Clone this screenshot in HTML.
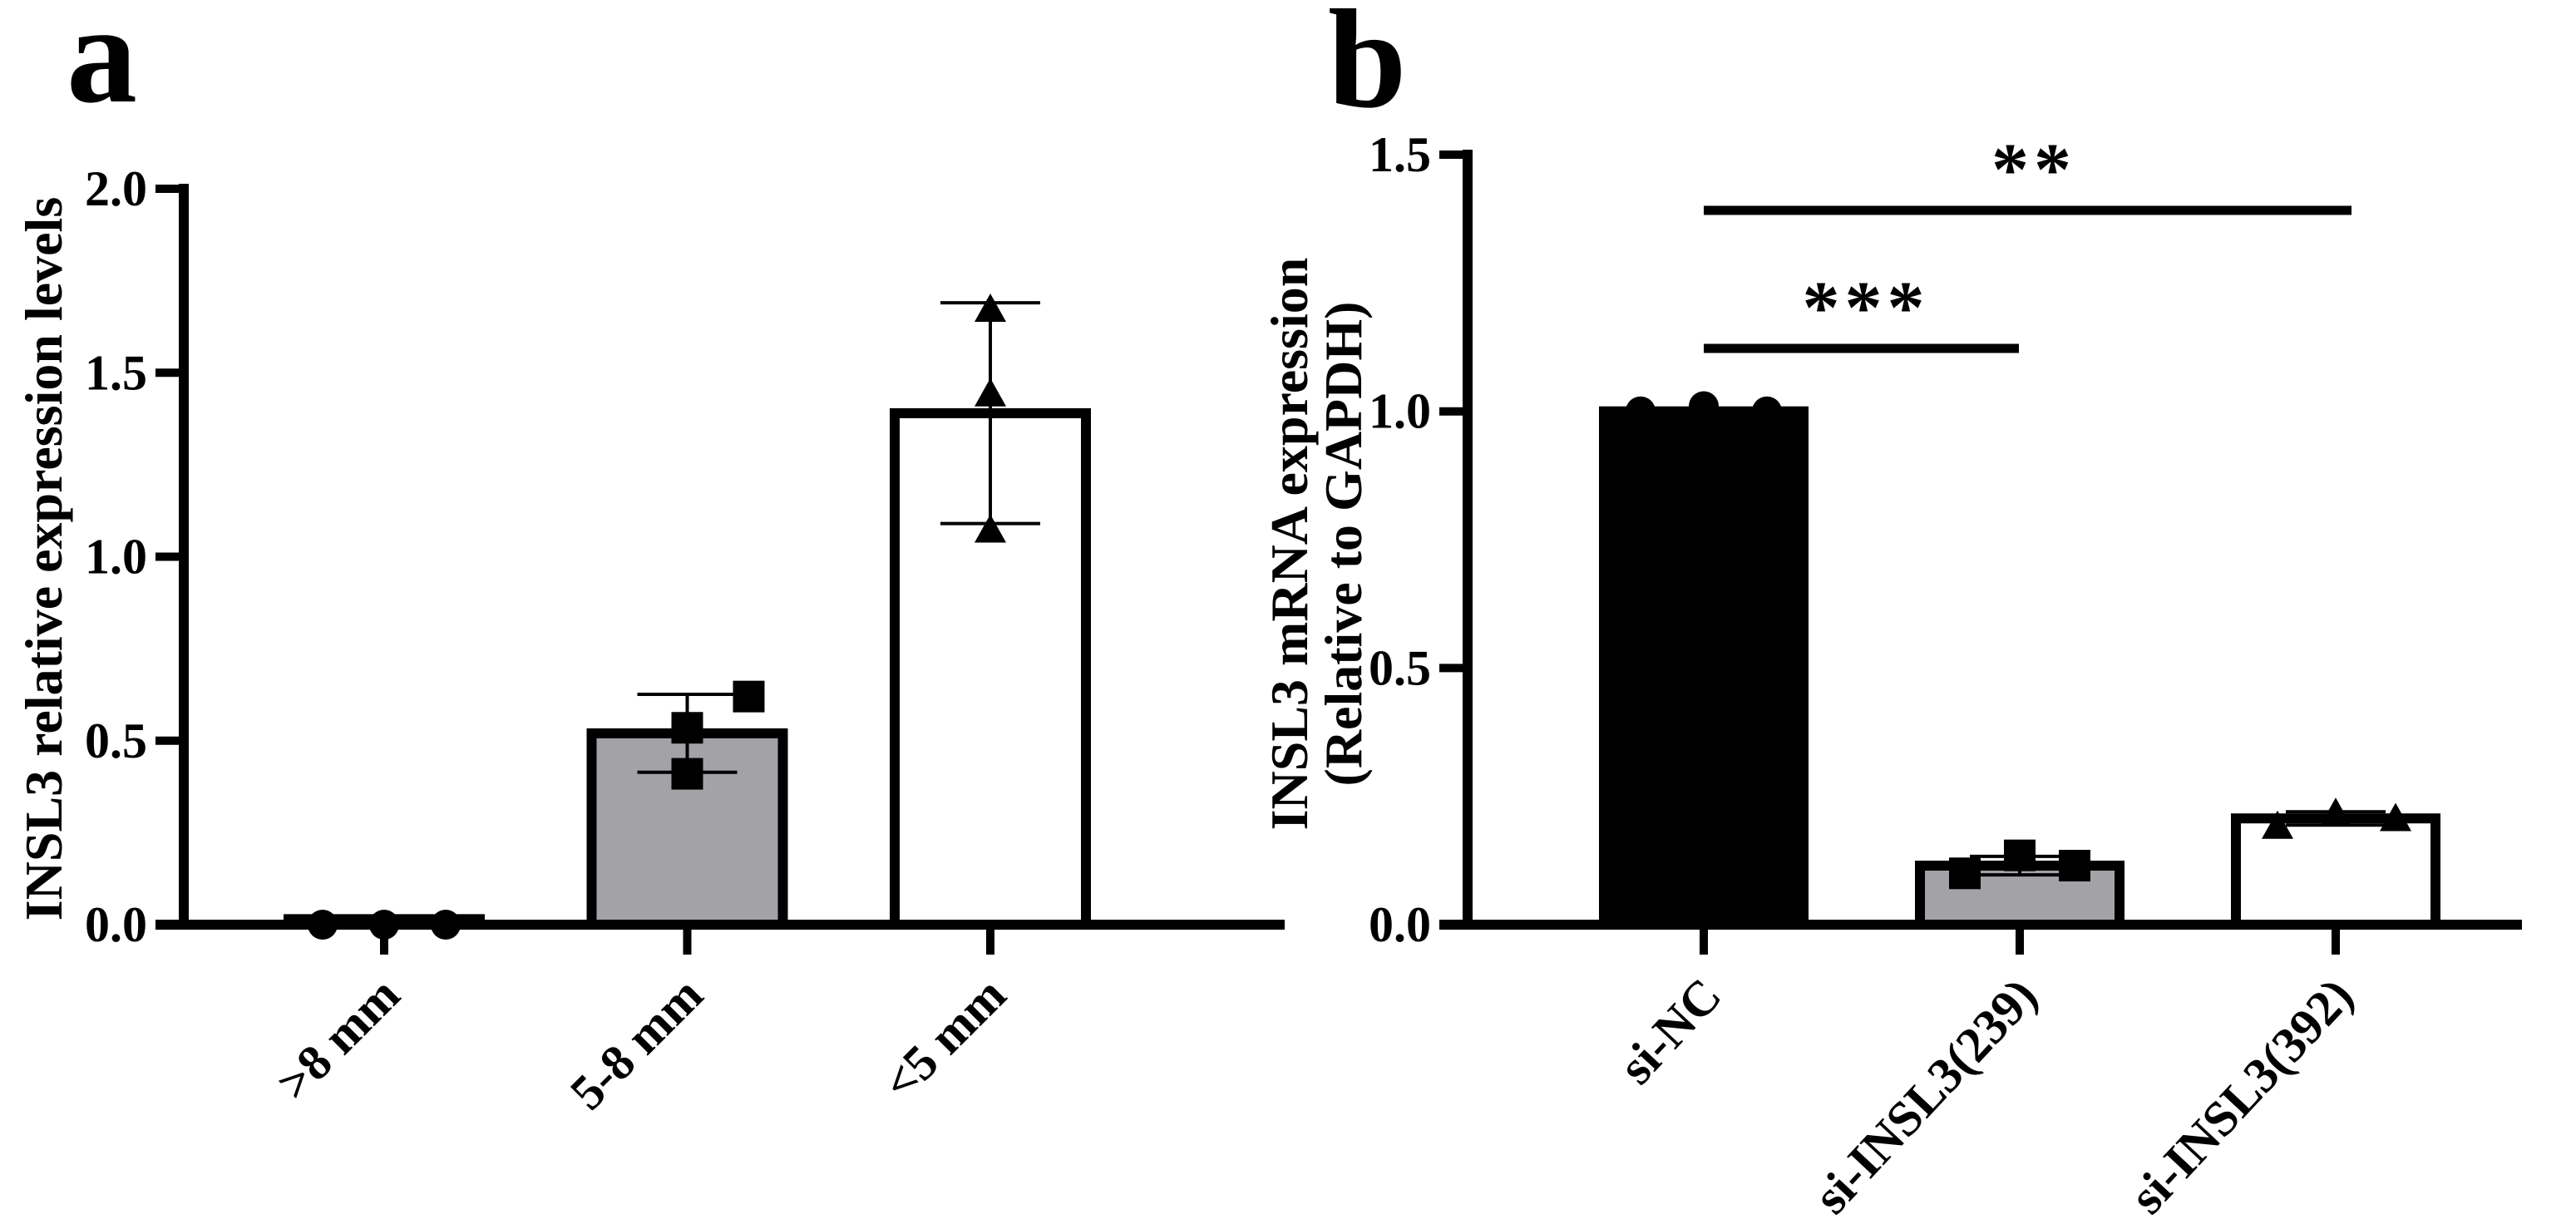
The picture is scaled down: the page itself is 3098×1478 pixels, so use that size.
<!DOCTYPE html>
<html><head><meta charset="utf-8">
<style>
html,body{margin:0;padding:0;background:#fff;}
svg{display:block;}
text{font-family:"Liberation Serif",serif;font-weight:bold;fill:#000;}
</style></head>
<body>
<svg id="fig" width="3098" height="1478" viewBox="0 0 3098 1478" xmlns="http://www.w3.org/2000/svg">
<text x="80" y="122" font-size="170">a</text>
<text x="1597" y="128" font-size="170">b</text>
<g id="pa"></g>
<g id="pb"></g>
</svg>
<script>
// ---- Panel A data ----
const catsA = [">8 mm", "5-8 mm", "<5 mm"];
const meansA = [0.015, 0.52, 1.39];
const sdA = [0.005, 0.106, 0.30];
const ptsA1 = [0.0, 0.0, 0.0];
const ptsA2 = [0.535, 0.62, 0.41];
const ptsA3 = [1.67, 1.44, 1.07];
const ticksA = [0, 0.5, 1.0, 1.5, 2.0];
const tickLabelsA = ["0.0", "0.5", "1.0", "1.5", "2.0"];
// ---- Panel B data ----
const catsB = ["si-NC", "si-INSL3(239)", "si-INSL3(392)"];
const meansB = [1.0, 0.115, 0.207];
const sdB = [0.005, 0.018, 0.013];
const ptsB1 = [1.0, 1.01, 1.0];
const ptsB2 = [0.10, 0.135, 0.115];
const ptsB3 = [0.19, 0.215, 0.205];
const ticksB = [0, 0.5, 1.0, 1.5];
const tickLabelsB = ["0.0", "0.5", "1.0", "1.5"];

const NS = "http://www.w3.org/2000/svg";
function mk(parent, tag, attrs){
  const e = document.createElementNS(NS, tag);
  for (const k in attrs) e.setAttribute(k, attrs[k]);
  parent.appendChild(e);
  return e;
}

function drawPanel(g, cfg){
  const y = v => cfg.y0 - (v - 0) * cfg.ppu;
  const x = i => cfg.xc[0] + i * cfg.step;
  cfg.means.forEach((m, i) => {
    const top = y(m), bot = y(0);
    const r = mk(g, "rect", {x: x(i) - cfg.bw/2, y: top, width: cfg.bw, height: Math.max(bot - top, 0.5),
      fill: cfg.fills[i], stroke: "#000", "stroke-width": 12});
    
    
  });
  cfg.pts.forEach((arr, i) => {
    arr.forEach((v, j) => {
      const px = x(i) + cfg.jit[i][j], py = y(v);
      let p;
      if (cfg.shapes[i] === "circle") {
        p = mk(g, "circle", {cx: px, cy: py, r: 18, fill: "#000"});
      } else if (cfg.shapes[i] === "square") {
        p = mk(g, "rect", {x: px - 19, y: py - 19, width: 38, height: 38, fill: "#000"});
      } else {
        p = mk(g, "polygon", {points: `${px},${py-20} ${px+19},${py+14} ${px-19},${py+14}`, fill: "#000"});
      }
      
      
    });
  });
  cfg.means.forEach((m, i) => {
    const eg = mk(g, "g", {stroke: "#000", "stroke-width": 4});
    
    
    const hi = y(m + cfg.sd[i]), lo = y(Math.max(m - cfg.sd[i], 0));
    mk(eg, "line", {x1: x(i), x2: x(i), y1: hi, y2: lo});
    mk(eg, "line", {x1: x(i) - 60, x2: x(i) + 60, y1: hi, y2: hi});
    mk(eg, "line", {x1: x(i) - 60, x2: x(i) + 60, y1: lo, y2: lo});
  });
  const ya = mk(g, "line", {x1: cfg.ax, x2: cfg.ax, y1: y(cfg.ticks[cfg.ticks.length-1]) - 6, y2: cfg.y0 + 6, stroke: "#000", "stroke-width": 12});
  
  
  const xa = mk(g, "line", {x1: cfg.ax - 34, x2: cfg.xEnd, y1: cfg.y0, y2: cfg.y0, stroke: "#000", "stroke-width": 12});
  
  
  cfg.ticks.forEach((t, k) => {
    const tl = mk(g, "line", {x1: cfg.ax - 34, x2: cfg.ax, y1: y(t), y2: y(t), stroke: "#000", "stroke-width": 10});
    
    
    const tx = mk(g, "text", {x: cfg.ax - 44, y: y(t) + 20, "font-size": 60, "text-anchor": "end"});
    tx.textContent = cfg.tickLabels[k];
    
    
  });
  cfg.cats.forEach((c, i) => {
    const tl = mk(g, "line", {x1: x(i), x2: x(i), y1: cfg.y0, y2: cfg.y0 + 36, stroke: "#000", "stroke-width": 10});
    
    
    const lx = x(i) + cfg.lblDx, ly = cfg.y0 + cfg.lblDy;
    const tx = mk(g, "text", {x: lx, y: ly, "font-size": 60, "text-anchor": "end", transform: `rotate(${cfg.rot} ${lx} ${ly})`});
    tx.textContent = c;
    
    
  });
  return y;
}

const pa = document.getElementById("pa");
drawPanel(pa, {y0: 1112, ppu: 442.5, ax: 221, xEnd: 1545, xc: [462], step: 364.5, bw: 230,
  means: meansA, sd: sdA, pts: [ptsA1, ptsA2, ptsA3], cats: catsA, ticks: ticksA, tickLabels: tickLabelsA,
  fills: ["#fff", "#a3a2a6", "#fff"], shapes: ["circle", "square", "triangle"], rot: -45, lblDx: 22, lblDy: 88,
  jit: [[-74, 0, 74], [0, 74, 0], [0, 0, 0]]});
const ta = mk(pa, "text", {x: 0, y: 0, "font-size": 64, "text-anchor": "middle", transform: "translate(74 672) rotate(-90)"});
ta.textContent = "INSL3 relative expression levels";



const pb = document.getElementById("pb");
drawPanel(pb, {y0: 1112, ppu: 617.3, ax: 1765, xEnd: 3033, xc: [2049], step: 380, bw: 240,
  means: meansB, sd: sdB, pts: [ptsB1, ptsB2, ptsB3], cats: catsB, ticks: ticksB, tickLabels: tickLabelsB,
  fills: ["#000", "#a3a2a6", "#fff"], shapes: ["circle", "square", "triangle"], rot: -47, lblDx: 24, lblDy: 88,
  jit: [[-76, 0, 76], [-66, 0, 66], [-70, 0, 72]]});
const tb1 = mk(pb, "text", {x: 0, y: 0, "font-size": 64, "text-anchor": "middle", transform: "translate(1572 654) rotate(-90)"});
tb1.textContent = "INSL3 mRNA expression";


const tb2 = mk(pb, "text", {x: 0, y: 0, "font-size": 64, "text-anchor": "middle", transform: "translate(1637 654) rotate(-90)"});
tb2.textContent = "(Relative to GAPDH)";



const s1 = mk(pb, "line", {x1: 2049, x2: 2428, y1: 419, y2: 419, stroke: "#000", "stroke-width": 11});


const st1 = mk(pb, "text", {x: 2244, y: 400, "font-size": 90, "text-anchor": "middle", "letter-spacing": "6"});
st1.textContent = "***";


const s2 = mk(pb, "line", {x1: 2049, x2: 2828, y1: 253, y2: 253, stroke: "#000", "stroke-width": 11});


const st2 = mk(pb, "text", {x: 2446, y: 234, "font-size": 90, "text-anchor": "middle", "letter-spacing": "6"});
st2.textContent = "**";


</script>
</body></html>
